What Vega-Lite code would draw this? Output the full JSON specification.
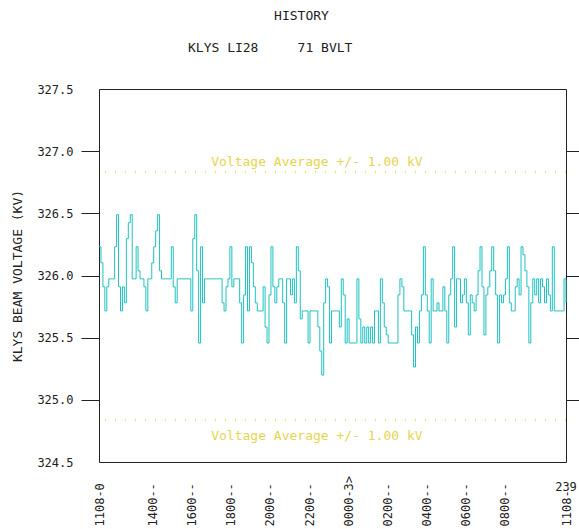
{
  "$schema": "https://vega.github.io/schema/vega-lite/v6.json",
  "width": 467,
  "height": 373,
  "autosize": "none",
  "padding": {"left": 99, "top": 89, "right": 13, "bottom": 67},
  "background": "white",
  "config": {"view": {"stroke": "#222", "strokeWidth": 1}, "font": "DejaVu Sans Mono"},
  "title": {
    "text": "\u200b\u00a0\u00a0\u00a0\u00a0\u00a0\u00a0\u00a0\u00a0\u00a0\u00a0\u00a0HISTORY",
    "subtitle": "KLYS\u00a0LI28\u00a0\u00a0\u00a0\u00a0\u00a071\u00a0BVLT",
    "anchor": "start", "frame": "group", "dx": 89, "offset": 28, "subtitlePadding": 19,
    "font": "DejaVu Sans Mono", "fontSize": 13, "fontWeight": "normal", "color": "#222",
    "subtitleFont": "DejaVu Sans Mono", "subtitleFontSize": 13, "subtitleColor": "#222"
  },
  "datasets": {
    "avg": [
      {"v": 326.835, "lbl": "Voltage Average +/- 1.00 kV", "side": "upper"},
      {"v": 324.835, "lbl": "Voltage Average +/- 1.00 kV", "side": "lower"}
    ],
    "hist": [
      {"i":0,"v":326.231},{"i":1,"v":326.102},{"i":2,"v":325.909},{"i":3,"v":325.715},{"i":4,"v":325.909},{"i":5,"v":325.973},{"i":6,"v":325.973},{"i":7,"v":325.973},{"i":8,"v":326.231},{"i":9,"v":326.489},
      {"i":10,"v":325.909},{"i":11,"v":325.715},{"i":12,"v":325.909},{"i":13,"v":325.78},{"i":14,"v":326.296},{"i":15,"v":326.425},{"i":16,"v":326.489},{"i":17,"v":325.973},{"i":18,"v":325.973},{"i":19,"v":326.231},
      {"i":20,"v":326.038},{"i":21,"v":325.973},{"i":22,"v":325.973},{"i":23,"v":325.909},{"i":24,"v":325.715},{"i":25,"v":325.973},{"i":26,"v":325.973},{"i":27,"v":326.102},{"i":28,"v":326.231},{"i":29,"v":326.36},
      {"i":30,"v":326.489},{"i":31,"v":326.038},{"i":32,"v":325.973},{"i":33,"v":325.973},{"i":34,"v":325.973},{"i":35,"v":325.973},{"i":36,"v":325.973},{"i":37,"v":326.231},{"i":38,"v":325.909},{"i":39,"v":325.78},
      {"i":40,"v":325.973},{"i":41,"v":325.973},{"i":42,"v":325.973},{"i":43,"v":325.973},{"i":44,"v":325.973},{"i":45,"v":325.973},{"i":46,"v":325.973},{"i":47,"v":325.715},{"i":48,"v":326.296},{"i":49,"v":326.489},
      {"i":50,"v":326.038},{"i":51,"v":325.457},{"i":52,"v":326.231},{"i":53,"v":325.78},{"i":54,"v":325.973},{"i":55,"v":325.973},{"i":56,"v":325.973},{"i":57,"v":325.973},{"i":58,"v":325.973},{"i":59,"v":325.973},
      {"i":60,"v":325.973},{"i":61,"v":325.973},{"i":62,"v":325.973},{"i":63,"v":325.78},{"i":64,"v":325.715},{"i":65,"v":325.909},{"i":66,"v":325.973},{"i":67,"v":326.231},{"i":68,"v":325.909},{"i":69,"v":325.973},
      {"i":70,"v":325.973},{"i":71,"v":325.973},{"i":72,"v":325.78},{"i":73,"v":325.457},{"i":74,"v":325.844},{"i":75,"v":326.231},{"i":76,"v":325.715},{"i":77,"v":326.231},{"i":78,"v":326.102},{"i":79,"v":325.909},
      {"i":80,"v":325.78},{"i":81,"v":325.715},{"i":82,"v":325.715},{"i":83,"v":325.715},{"i":84,"v":325.909},{"i":85,"v":325.586},{"i":86,"v":325.457},{"i":87,"v":325.844},{"i":88,"v":326.231},{"i":89,"v":325.909},
      {"i":90,"v":325.78},{"i":91,"v":325.909},{"i":92,"v":325.973},{"i":93,"v":325.973},{"i":94,"v":325.78},{"i":95,"v":325.457},{"i":96,"v":325.973},{"i":97,"v":325.973},{"i":98,"v":325.844},{"i":99,"v":325.973},
      {"i":100,"v":325.78},{"i":101,"v":326.231},{"i":102,"v":326.038},{"i":103,"v":325.651},{"i":104,"v":325.715},{"i":105,"v":325.715},{"i":106,"v":325.715},{"i":107,"v":325.457},{"i":108,"v":325.715},{"i":109,"v":325.715},
      {"i":110,"v":325.715},{"i":111,"v":325.715},{"i":112,"v":325.586},{"i":113,"v":325.393},{"i":114,"v":325.199},{"i":115,"v":325.78},{"i":116,"v":325.973},{"i":117,"v":325.909},{"i":118,"v":325.457},{"i":119,"v":325.715},
      {"i":120,"v":325.715},{"i":121,"v":325.715},{"i":122,"v":325.715},{"i":123,"v":325.586},{"i":124,"v":325.973},{"i":125,"v":325.844},{"i":126,"v":325.457},{"i":127,"v":325.651},{"i":128,"v":325.457},{"i":129,"v":325.457},
      {"i":130,"v":325.457},{"i":131,"v":325.457},{"i":132,"v":325.973},{"i":133,"v":325.651},{"i":134,"v":325.457},{"i":135,"v":325.586},{"i":136,"v":325.457},{"i":137,"v":325.586},{"i":138,"v":325.457},{"i":139,"v":325.586},
      {"i":140,"v":325.457},{"i":141,"v":325.715},{"i":142,"v":325.715},{"i":143,"v":325.457},{"i":144,"v":325.973},{"i":145,"v":325.78},{"i":146,"v":325.586},{"i":147,"v":325.522},{"i":148,"v":325.457},{"i":149,"v":325.457},
      {"i":150,"v":325.457},{"i":151,"v":325.457},{"i":152,"v":325.457},{"i":153,"v":325.844},{"i":154,"v":325.973},{"i":155,"v":325.909},{"i":156,"v":325.715},{"i":157,"v":325.715},{"i":158,"v":325.715},{"i":159,"v":325.715},
      {"i":160,"v":325.522},{"i":161,"v":325.264},{"i":162,"v":325.586},{"i":163,"v":325.457},{"i":164,"v":325.715},{"i":165,"v":325.844},{"i":166,"v":326.231},{"i":167,"v":325.844},{"i":168,"v":325.715},{"i":169,"v":325.457},
      {"i":170,"v":325.973},{"i":171,"v":325.715},{"i":172,"v":325.715},{"i":173,"v":325.78},{"i":174,"v":325.715},{"i":175,"v":325.715},{"i":176,"v":325.909},{"i":177,"v":325.715},{"i":178,"v":325.457},{"i":179,"v":325.844},
      {"i":180,"v":325.973},{"i":181,"v":326.231},{"i":182,"v":325.586},{"i":183,"v":325.973},{"i":184,"v":325.973},{"i":185,"v":325.78},{"i":186,"v":325.844},{"i":187,"v":325.973},{"i":188,"v":325.78},{"i":189,"v":325.522},
      {"i":190,"v":325.844},{"i":191,"v":325.78},{"i":192,"v":325.715},{"i":193,"v":325.844},{"i":194,"v":326.038},{"i":195,"v":326.231},{"i":196,"v":325.909},{"i":197,"v":325.522},{"i":198,"v":325.844},{"i":199,"v":325.909},
      {"i":200,"v":326.038},{"i":201,"v":326.231},{"i":202,"v":326.038},{"i":203,"v":325.844},{"i":204,"v":325.457},{"i":205,"v":325.844},{"i":206,"v":325.78},{"i":207,"v":325.844},{"i":208,"v":325.973},{"i":209,"v":326.231},
      {"i":210,"v":325.78},{"i":211,"v":325.715},{"i":212,"v":325.715},{"i":213,"v":325.909},{"i":214,"v":325.973},{"i":215,"v":325.844},{"i":216,"v":326.231},{"i":217,"v":326.167},{"i":218,"v":326.038},{"i":219,"v":325.909},
      {"i":220,"v":325.457},{"i":221,"v":325.78},{"i":222,"v":325.973},{"i":223,"v":325.844},{"i":224,"v":325.973},{"i":225,"v":325.78},{"i":226,"v":325.973},{"i":227,"v":325.909},{"i":228,"v":325.78},{"i":229,"v":325.973},
      {"i":230,"v":325.844},{"i":231,"v":325.715},{"i":232,"v":326.231},{"i":233,"v":325.715},{"i":234,"v":325.715},{"i":235,"v":325.715},{"i":236,"v":325.715},{"i":237,"v":325.715},{"i":238,"v":325.973},{"i":239,"v":325.78}
    ],
    "endlbl": [{"i": 239, "lbl": "239"}]
  },
  "resolve": {"axis": {"y": "independent"}},
  "layer": [
    {
      "data": {"name": "hist"},
      "mark": {"type": "line", "interpolate": "step-after", "color": "#1fc1c1", "strokeWidth": 1},
      "encoding": {
        "x": {
          "field": "i", "type": "quantitative",
          "scale": {"domain": [0, 239], "nice": false, "zero": false},
          "axis": {
            "values": [0, 27.5, 47.5, 67.5, 87.5, 107.5, 127.5, 147.5, 167.5, 187.5, 207.5, 239],
            "labelExpr": "datum.value == 0 ? '1108-0' : datum.value == 27.5 ? '1400--' : datum.value == 47.5 ? '1600--' : datum.value == 67.5 ? '1800--' : datum.value == 87.5 ? '2000--' : datum.value == 107.5 ? '2200--' : datum.value == 127.5 ? '0000-3>' : datum.value == 147.5 ? '0200--' : datum.value == 167.5 ? '0400--' : datum.value == 187.5 ? '0600--' : datum.value == 207.5 ? '0800--' : '1108-'",
            "labelAngle": 270, "labelAlign": "left", "labelBaseline": "middle",
            "labelPadding": 64, "ticks": false, "tickSize": 0, "domain": false, "grid": false,
            "title": null, "labelFont": "DejaVu Sans Mono", "labelFontSize": 12, "labelColor": "#222",
            "labelFlush": false, "labelOverlap": false, "labelBound": false
          }
        },
        "y": {
          "field": "v", "type": "quantitative",
          "scale": {"domain": [324.5, 327.5], "nice": false, "zero": false},
          "axis": {
            "orient": "left",
            "values": [324.5, 325, 325.5, 326, 326.5, 327, 327.5],
            "format": ".1f", "domain": false, "grid": false,
            "tickSize": 18, "tickColor": "#222",
            "tickOpacity": {"condition": {"test": "datum.value < 324.9 || datum.value > 327.1", "value": 0}, "value": 1},
            "labelPadding": 8, "labelFont": "DejaVu Sans Mono", "labelFontSize": 12, "labelColor": "#222",
            "labelFlush": false, "labelOverlap": false,
            "title": "KLYS BEAM VOLTAGE (KV)", "titleFont": "DejaVu Sans Mono", "titleFontSize": 13,
            "titleFontWeight": "normal", "titleColor": "#222", "titlePadding": 12
          }
        }
      }
    },
    {
      "data": {"name": "avg"},
      "mark": {"type": "rule", "color": "#ecdb6a", "strokeWidth": 2, "strokeDash": [1, 9]},
      "encoding": {
        "y": {
          "field": "v", "type": "quantitative",
          "axis": {
            "orient": "right", "values": [325, 325.5, 326, 326.5, 327],
            "labels": false, "domain": false, "grid": false,
            "tickSize": 13, "tickColor": "#222", "title": null
          }
        }
      }
    },
    {
      "data": {"name": "avg"},
      "transform": [{"filter": "datum.side == 'upper'"}],
      "mark": {"type": "text", "font": "DejaVu Sans Mono", "fontSize": 13, "color": "#e6d44c", "baseline": "alphabetic", "dy": -6},
      "encoding": {
        "x": {"datum": 111.5, "type": "quantitative"},
        "y": {"field": "v", "type": "quantitative", "axis": null},
        "text": {"field": "lbl"}
      }
    },
    {
      "data": {"name": "avg"},
      "transform": [{"filter": "datum.side == 'lower'"}],
      "mark": {"type": "text", "font": "DejaVu Sans Mono", "fontSize": 13, "color": "#e6d44c", "baseline": "alphabetic", "dy": 20},
      "encoding": {
        "x": {"datum": 111.5, "type": "quantitative"},
        "y": {"field": "v", "type": "quantitative", "axis": null},
        "text": {"field": "lbl"}
      }
    },
    {
      "data": {"name": "endlbl"},
      "mark": {"type": "text", "font": "DejaVu Sans Mono", "fontSize": 12, "color": "#222", "baseline": "alphabetic", "dy": 29},
      "encoding": {
        "x": {"field": "i", "type": "quantitative"},
        "y": {"datum": 324.5, "type": "quantitative", "axis": null},
        "text": {"field": "lbl"}
      }
    }
  ]
}
